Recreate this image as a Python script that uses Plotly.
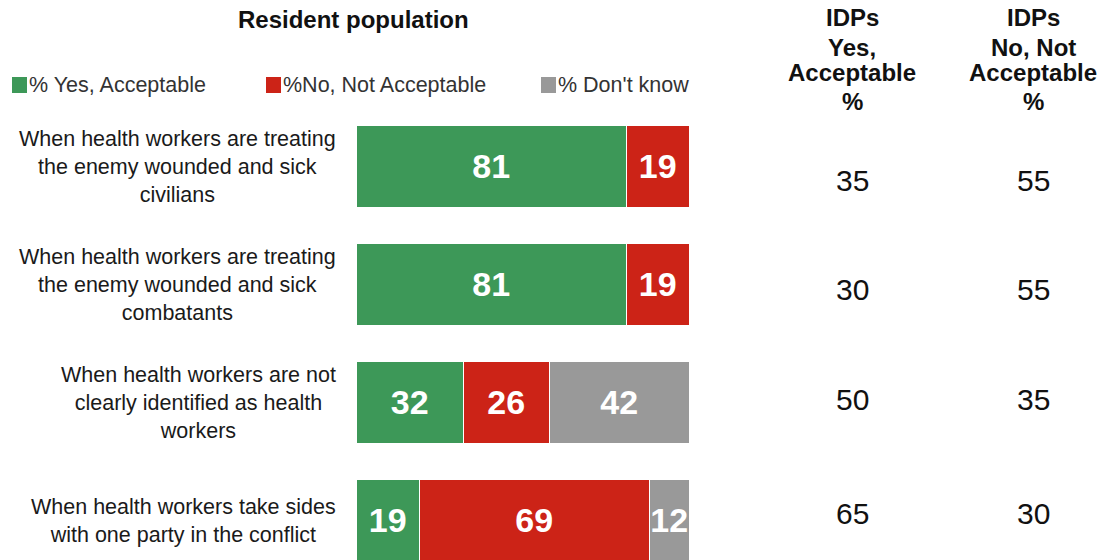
import plotly.graph_objects as go

# ---- data -----------------------------------------------------------------
statements = [
    "When health workers are treating<br>the enemy wounded and sick<br>civilians",
    "When health workers are treating<br>the enemy wounded and sick<br>combatants",
    "When health workers are not<br>clearly identified as health<br>workers",
    "When health workers take sides<br>with one party in the conflict",
]
series_names = ["% Yes, Acceptable", "%No, Not Acceptable", "% Don't know"]
yes_acceptable = [81, 81, 32, 19]
not_acceptable = [19, 19, 26, 69]
dont_know = [0, 0, 42, 12]
idp_yes = [35, 30, 50, 65]
idp_no = [55, 55, 35, 30]
idp_headers = [["IDPs", "Yes,", "Acceptable", "%"],
               ["IDPs", "No, Not", "Acceptable", "%"]]

# ---- styling / layout constants (pixels) ------------------------------------
W, H = 1104, 560
colors = ["#3d9858", "#cc2317", "#999999"]
FONT = "Liberation Sans, Arial, Helvetica, sans-serif"
BAR_LEFT, BAR_RIGHT = 357, 690
ROW0, ROW_STEP = 167, 118
IDP_COL_X = [852, 1033]
IDP_ROW_Y = [181, 289, 399, 513]
HEADER_LINE_Y = [17, 47, 72, 101]
LEGEND_Y = 85
LEGEND_X = [12, 266, 541]


def px(x):
    return x / W


def py(y):
    return 1 - y / H


rows = list(range(len(statements)))
fig = go.Figure()
for name, vals, col in zip(series_names, [yes_acceptable, not_acceptable, dont_know], colors):
    fig.add_trace(go.Bar(
        y=rows, x=vals, name=name, orientation="h",
        marker=dict(color=col, line=dict(color="white", width=1.5)),
        text=[str(v) if v else "" for v in vals],
        textposition="inside", insidetextanchor="middle",
        textfont=dict(family=FONT, size=34, color="white", weight="bold"),
        width=0.70, showlegend=False, hoverinfo="skip",
    ))

annotations = []
# statement labels: block right-aligned to the bars, lines centred within it
for i, s in enumerate(statements):
    annotations.append(dict(
        x=px(338), xref="paper", xanchor="right", y=i, yref="y", yanchor="middle",
        text=s, align="center", showarrow=False,
        font=dict(family=FONT, size=21.5, color="#1a1a1a"),
    ))

# title
annotations.append(dict(
    x=px(353), xref="paper", y=py(20), yref="paper", xanchor="center", yanchor="middle",
    text="<b>Resident population</b>", showarrow=False,
    font=dict(family=FONT, size=24, color="#111111"),
))

# IDP column headers
for cx, lines in zip(IDP_COL_X, idp_headers):
    for ly, line in zip(HEADER_LINE_Y, lines):
        annotations.append(dict(
            x=px(cx), xref="paper", y=py(ly), yref="paper",
            xanchor="center", yanchor="middle", text=f"<b>{line}</b>", showarrow=False,
            font=dict(family=FONT, size=24, color="#111111"),
        ))

# IDP values
for cx, vals in zip(IDP_COL_X, [idp_yes, idp_no]):
    for ry, v in zip(IDP_ROW_Y, vals):
        annotations.append(dict(
            x=px(cx), xref="paper", y=py(ry), yref="paper",
            xanchor="center", yanchor="middle", text=str(v), showarrow=False,
            font=dict(family=FONT, size=30, color="#111111"),
        ))

# legend: swatch + label
shapes = []
for lx, name, col in zip(LEGEND_X, series_names, colors):
    shapes.append(dict(
        type="rect", xref="paper", yref="paper",
        x0=px(lx), x1=px(lx + 15), y0=py(LEGEND_Y + 8), y1=py(LEGEND_Y - 8),
        fillcolor=col, line=dict(width=0),
    ))
    annotations.append(dict(
        x=px(lx + 15), xref="paper", y=py(LEGEND_Y), yref="paper",
        xanchor="left", yanchor="middle", text=name, showarrow=False,
        font=dict(family=FONT, size=21.5, color="#333333"),
    ))

fig.update_layout(
    width=W, height=H,
    margin=dict(l=0, r=0, t=0, b=0),
    paper_bgcolor="white", plot_bgcolor="white",
    barmode="stack", bargap=0,
    uniformtext=dict(minsize=34, mode="show"),
    xaxis=dict(domain=[px(BAR_LEFT), px(BAR_RIGHT)], range=[0, 100],
               visible=False, fixedrange=True),
    yaxis=dict(domain=[0, 1],
               range=[(H - ROW0) / ROW_STEP, -ROW0 / ROW_STEP],
               visible=False, fixedrange=True),
    annotations=annotations, shapes=shapes,
    font=dict(family=FONT),
)

fig.write_html("out.html", config={"displayModeBar": False})
